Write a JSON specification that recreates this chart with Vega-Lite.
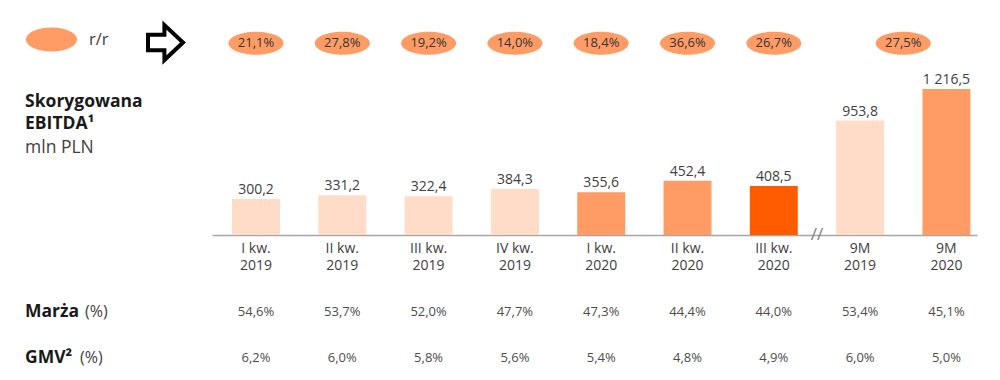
{
  "$schema": "https://vega.github.io/schema/vega-lite/v6.json",
  "width": 765,
  "height": 235,
  "autosize": {"type": "none"},
  "padding": {"left": 212, "top": 0, "right": 23, "bottom": 145},
  "background": "white",
  "config": {
    "view": {"stroke": null},
    "font": "Open Sans",
    "text": {"font": "Open Sans"},
    "locale": {"number": {"decimal": ",", "thousands": " ", "grouping": [3], "currency": ["", " zł"]}}
  },
  "data": {
    "values": [
      {"kat": "I kw.|2019", "okres": "kwartał", "grupa": "2019", "wartosc": 300.2, "rr": 0.211, "marza": 0.546, "gmv": 0.062},
      {"kat": "II kw.|2019", "okres": "kwartał", "grupa": "2019", "wartosc": 331.2, "rr": 0.278, "marza": 0.537, "gmv": 0.060},
      {"kat": "III kw.|2019", "okres": "kwartał", "grupa": "2019", "wartosc": 322.4, "rr": 0.192, "marza": 0.520, "gmv": 0.058},
      {"kat": "IV kw.|2019", "okres": "kwartał", "grupa": "2019", "wartosc": 384.3, "rr": 0.140, "marza": 0.477, "gmv": 0.056},
      {"kat": "I kw.|2020", "okres": "kwartał", "grupa": "2020", "wartosc": 355.6, "rr": 0.184, "marza": 0.473, "gmv": 0.054},
      {"kat": "II kw.|2020", "okres": "kwartał", "grupa": "2020", "wartosc": 452.4, "rr": 0.366, "marza": 0.444, "gmv": 0.048},
      {"kat": "III kw.|2020", "okres": "kwartał", "grupa": "III kw. 2020", "wartosc": 408.5, "rr": 0.267, "marza": 0.440, "gmv": 0.049},
      {"kat": "9M|2019", "okres": "9M", "grupa": "2019", "wartosc": 953.8, "rr": null, "marza": 0.534, "gmv": 0.060},
      {"kat": "9M|2020", "okres": "9M", "grupa": "2020", "wartosc": 1216.5, "rr": 0.275, "marza": 0.451, "gmv": 0.050}
    ]
  },
  "layer": [
    {
      "mark": {"type": "bar"},
      "encoding": {
        "x": {
          "field": "kat", "type": "nominal",
          "scale": {
            "domain": ["I kw.|2019", "II kw.|2019", "III kw.|2019", "IV kw.|2019", "I kw.|2020", "II kw.|2020", "III kw.|2020", "9M|2019", "9M|2020"],
            "paddingInner": 0.444, "paddingOuter": 0.154, "align": 0.752
          },
          "axis": {
            "title": null, "labelAngle": 0, "ticks": false,
            "domainColor": "#A6A6A6", "domainWidth": 1.5,
            "labelExpr": "split(datum.label, '|')",
            "labelFont": "Open Sans", "labelFontSize": 14, "labelColor": "#404040",
            "labelPadding": 6, "labelLineHeight": 17, "labelBaseline": "top"
          }
        },
        "y": {"field": "wartosc", "type": "quantitative", "scale": {"domain": [0, 1958.33], "nice": false, "zero": true}, "axis": null},
        "color": {
          "field": "grupa", "type": "nominal",
          "scale": {"domain": ["2019", "2020", "III kw. 2020"], "range": ["#FFDCC8", "#FF9C66", "#FF5B00"]},
          "legend": null
        }
      }
    },
    {
      "mark": {"type": "text", "baseline": "middle", "dy": -9, "fontSize": 14, "color": "#404040"},
      "encoding": {
        "x": {"field": "kat", "type": "nominal"},
        "y": {"field": "wartosc", "type": "quantitative"},
        "text": {"field": "wartosc", "type": "quantitative", "format": ",.1f"}
      }
    },
    {
      "transform": [{"filter": "datum.okres == 'kwartał'"}],
      "mark": {"type": "point", "shape": "M-1,0A1,0.418,0,1,0,1,0A1,0.418,0,1,0,-1,0Z", "size": 3025, "filled": true, "opacity": 1, "strokeWidth": 0},
      "encoding": {
        "x": {"field": "kat", "type": "nominal"},
        "y": {"datum": 1598, "type": "quantitative"},
        "fill": {
          "datum": "r/r", "type": "nominal",
          "scale": {"domain": ["r/r"], "range": ["#FF9C66"]},
          "legend": {
            "title": null, "orient": "none", "legendX": -186, "legendY": 14, "padding": 0,
            "symbolType": "M-1,0A1,0.47,0,1,0,1,0A1,0.47,0,1,0,-1,0Z",
            "symbolSize": 2601, "symbolOpacity": 1, "symbolStrokeWidth": 0,
            "labelFont": "Open Sans", "labelFontSize": 16.5, "labelColor": "#404040", "labelOffset": 12
          }
        }
      }
    },
    {
      "transform": [{"filter": "datum.okres == 'kwartał'"}],
      "mark": {"type": "text", "baseline": "middle", "fontSize": 13, "color": "#333333"},
      "encoding": {
        "x": {"field": "kat", "type": "nominal"},
        "y": {"datum": 1598, "type": "quantitative"},
        "text": {"field": "rr", "type": "quantitative", "format": ".1%"}
      }
    },
    {
      "transform": [{"filter": "datum.okres == '9M' && isValid(datum.rr)"}],
      "mark": {"type": "point", "shape": "M-1,0A1,0.418,0,1,0,1,0A1,0.418,0,1,0,-1,0Z", "size": 3025, "filled": true, "opacity": 1, "strokeWidth": 0},
      "encoding": {
        "x": {"field": "kat", "type": "nominal", "bandPosition": -0.4},
        "y": {"datum": 1598, "type": "quantitative"},
        "fill": {"datum": "r/r", "type": "nominal"}
      }
    },
    {
      "transform": [{"filter": "datum.okres == '9M' && isValid(datum.rr)"}],
      "mark": {"type": "text", "baseline": "middle", "fontSize": 13, "color": "#333333"},
      "encoding": {
        "x": {"field": "kat", "type": "nominal", "bandPosition": -0.4},
        "y": {"datum": 1598, "type": "quantitative"},
        "text": {"field": "rr", "type": "quantitative", "format": ".1%"}
      }
    },
    {
      "mark": {"type": "text", "baseline": "middle", "fontSize": 13, "color": "#4D4D4D"},
      "encoding": {
        "x": {"field": "kat", "type": "nominal"},
        "y": {"datum": -641.7, "type": "quantitative"},
        "text": {"field": "marza", "type": "quantitative", "format": ".1%"}
      }
    },
    {
      "mark": {"type": "text", "baseline": "middle", "fontSize": 13, "color": "#4D4D4D"},
      "encoding": {
        "x": {"field": "kat", "type": "nominal"},
        "y": {"datum": -1025, "type": "quantitative"},
        "text": {"field": "gmv", "type": "quantitative", "format": ".1%"}
      }
    },
    {
      "data": {"values": [{"t": "//"}]},
      "mark": {"type": "text", "baseline": "middle", "fontSize": 17, "color": "#808080"},
      "encoding": {
        "x": {"datum": "9M|2019", "type": "nominal", "bandPosition": -0.4},
        "y": {"datum": 0, "type": "quantitative"},
        "text": {"field": "t"}
      }
    },
    {
      "data": {"values": [{"t": "Skorygowana\nEBITDA¹"}]},
      "mark": {"type": "text", "align": "left", "baseline": "alphabetic", "lineBreak": "\n", "lineHeight": 22.5, "fontSize": 17.5, "fontWeight": "bold", "color": "#1A1A1A"},
      "encoding": {
        "x": {"datum": "I kw.|2019", "type": "nominal", "bandPosition": -4.3125},
        "y": {"datum": 1066.7, "type": "quantitative"},
        "text": {"field": "t"}
      }
    },
    {
      "data": {"values": [{"t": "mln PLN"}]},
      "mark": {"type": "text", "align": "left", "baseline": "alphabetic", "fontSize": 17.5, "color": "#404040"},
      "encoding": {
        "x": {"datum": "I kw.|2019", "type": "nominal", "bandPosition": -4.3125},
        "y": {"datum": 683.3, "type": "quantitative"},
        "text": {"field": "t"}
      }
    },
    {
      "data": {"values": [{"t": "Marża"}]},
      "mark": {"type": "text", "align": "left", "baseline": "middle", "fontSize": 17.5, "fontWeight": "bold", "color": "#1A1A1A"},
      "encoding": {
        "x": {"datum": "I kw.|2019", "type": "nominal", "bandPosition": -4.3125},
        "y": {"datum": -641.7, "type": "quantitative"},
        "text": {"field": "t"}
      }
    },
    {
      "data": {"values": [{"t": "(%)"}]},
      "mark": {"type": "text", "align": "left", "baseline": "middle", "fontSize": 16, "color": "#404040"},
      "encoding": {
        "x": {"datum": "I kw.|2019", "type": "nominal", "bandPosition": -3.0625},
        "y": {"datum": -641.7, "type": "quantitative"},
        "text": {"field": "t"}
      }
    },
    {
      "data": {"values": [{"t": "GMV²"}]},
      "mark": {"type": "text", "align": "left", "baseline": "middle", "fontSize": 17.5, "fontWeight": "bold", "color": "#1A1A1A"},
      "encoding": {
        "x": {"datum": "I kw.|2019", "type": "nominal", "bandPosition": -4.3125},
        "y": {"datum": -1025, "type": "quantitative"},
        "text": {"field": "t"}
      }
    },
    {
      "data": {"values": [{"t": "(%)"}]},
      "mark": {"type": "text", "align": "left", "baseline": "middle", "fontSize": 16, "color": "#404040"},
      "encoding": {
        "x": {"datum": "I kw.|2019", "type": "nominal", "bandPosition": -3.1667},
        "y": {"datum": -1025, "type": "quantitative"},
        "text": {"field": "t"}
      }
    },
    {
      "data": {"values": [{"t": "strzałka"}]},
      "mark": {"type": "point", "shape": "M-0.9,-0.39L-0.08,-0.39L-0.08,-0.875L0.85,0L-0.08,0.875L-0.08,0.39L-0.9,0.39Z", "size": 1600, "filled": false, "fill": "white", "stroke": "black", "strokeWidth": 4, "opacity": 1},
      "encoding": {
        "x": {"datum": "I kw.|2019", "type": "nominal", "bandPosition": -1.375},
        "y": {"datum": 1604, "type": "quantitative"}
      }
    }
  ]
}
